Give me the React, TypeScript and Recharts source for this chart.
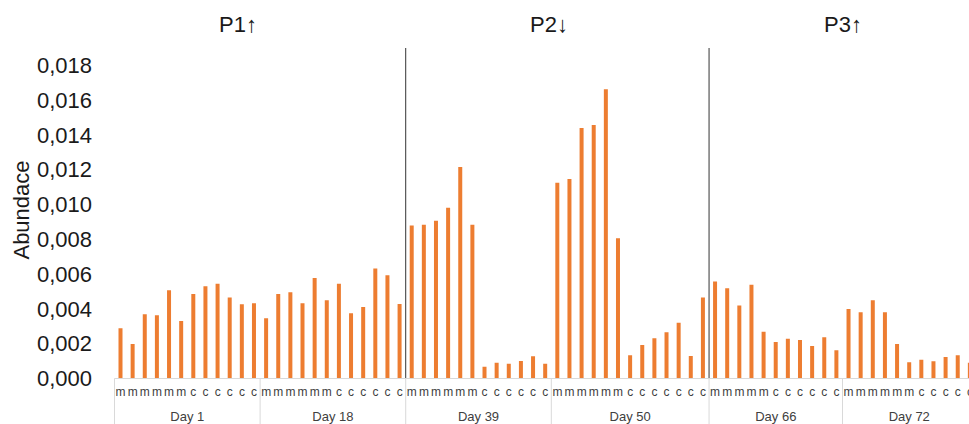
import React from "react";
import { BarChart, Bar, XAxis, YAxis, ReferenceLine } from "recharts";

// sampling days and how many "m" samples lead each group (the rest are "c")
const days = ["Day 1", "Day 18", "Day 39", "Day 50", "Day 66", "Day 72"];
const mCounts = [6, 6, 6, 6, 5, 6];

const day1 = [0.00289, 0.00198, 0.00369, 0.00363, 0.00507, 0.00331, 0.00486, 0.0053, 0.00545, 0.00465, 0.00427, 0.00432];
const day18 = [0.00346, 0.00486, 0.00496, 0.00432, 0.00578, 0.0045, 0.00545, 0.00375, 0.00411, 0.00633, 0.00593, 0.00428];
const day39 = [0.00879, 0.00884, 0.00907, 0.00982, 0.01216, 0.00884, 0.00068, 0.00091, 0.00085, 0.00101, 0.00128, 0.00085];
const day50 = [0.01126, 0.01147, 0.0144, 0.01458, 0.01663, 0.00806, 0.00133, 0.00193, 0.00231, 0.00266, 0.00321, 0.00129, 0.00465];
const day66 = [0.00557, 0.00519, 0.00419, 0.00539, 0.00269, 0.0021, 0.00229, 0.00221, 0.00187, 0.00237, 0.00162];
const day72 = [0.004, 0.00381, 0.0045, 0.00381, 0.00198, 0.00093, 0.00108, 0.00099, 0.00124, 0.00133, 0.00091];

const yTicks = [0, 0.002, 0.004, 0.006, 0.008, 0.01, 0.012, 0.014, 0.016, 0.018];

const phases = ["P1↑", "P2↓", "P3↑"];
const phaseStarts = ["Day 39", "Day 66"];

const series = [day1, day18, day39, day50, day66, day72];

const rows = days.flatMap((day, g) =>
  series[g].map((value, i) => ({
    id: `${day}-${i}`,
    day,
    pos: i,
    size: series[g].length,
    kind: i < mCounts[g] ? "m" : "c",
    value,
  }))
);
const byId: Record<string, (typeof rows)[number]> = {};
rows.forEach((r) => (byId[r.id] = r));

const CHART_W = 976;
const CHART_H = 424;
const PLOT_LEFT = 114.5;
const PLOT_TOP = 48;
const KIND_H = 22;
const DAY_H = 23.5;
const BAND = (CHART_W - PLOT_LEFT) / rows.length;

const FONT = '"Liberation Sans", Arial, sans-serif';
const ORANGE = "#ED7D31";
const GRID = "#D9D9D9";

const fmt = (v: number) => v.toFixed(3).replace(".", ",");

const ValueTick = ({ y, payload }: any) => (
  <text x={92} y={y} dy="0.35em" textAnchor="end" fontSize={22} fontFamily={FONT} fill="#1a1a1a">
    {fmt(payload.value)}
  </text>
);

const KindTick = ({ x, y, payload }: any) => (
  <text x={x} y={y + 17} textAnchor="middle" fontSize={12} fontFamily={FONT} fill="#404040">
    {byId[payload.value]?.kind}
  </text>
);

// group separators plus one centred day label per group
const DayTick = ({ x, y, payload }: any) => {
  const r = byId[payload.value];
  if (!r) return null;
  const left = x - BAND / 2;
  const center = x + ((r.size - 1) / 2 - r.pos) * BAND;
  return (
    <g>
      {r.pos === 0 && (
        <line x1={left} x2={left} y1={y - KIND_H} y2={y + DAY_H} stroke={GRID} strokeWidth={1} />
      )}
      {r.pos === Math.floor((r.size - 1) / 2) && (
        <text x={center} y={y + 20} textAnchor="middle" fontSize={13} fontFamily={FONT} fill="#404040">
          {r.day}
        </text>
      )}
    </g>
  );
};

const phaseX = [238, 549, 843];

export default function App() {
  return (
    <div
      style={{
        position: "absolute",
        left: 0,
        top: 0,
        width: 969,
        height: CHART_H,
        overflow: "hidden",
        background: "#fff",
      }}
    >
      <BarChart
        width={CHART_W}
        height={CHART_H}
        data={rows}
        margin={{ top: PLOT_TOP, right: 0, bottom: 0, left: 0 }}
        barCategoryGap={0}
      >
        <YAxis
          width={PLOT_LEFT}
          domain={[0, 0.019]}
          ticks={yTicks}
          axisLine={false}
          tickLine={false}
          tick={<ValueTick />}
          allowDataOverflow
        />
        <XAxis
          dataKey="id"
          height={KIND_H}
          interval={0}
          tickSize={0}
          tickMargin={0}
          tickLine={false}
          axisLine={{ stroke: GRID }}
          tick={<KindTick />}
        />
        <XAxis
          xAxisId="day"
          dataKey="id"
          height={DAY_H}
          interval={0}
          tickSize={0}
          tickMargin={0}
          tickLine={false}
          axisLine={false}
          tick={<DayTick />}
        />
        <Bar dataKey="value" fill={ORANGE} barSize={4} isAnimationActive={false} />
        {phaseStarts.map((d) => (
          <ReferenceLine
            key={d}
            x={`${d}-0`}
            position="start"
            stroke="#333"
            strokeWidth={1}
            ifOverflow="visible"
          />
        ))}
      </BarChart>
      <svg
        width={969}
        height={CHART_H}
        style={{ position: "absolute", left: 0, top: 0, pointerEvents: "none" }}
      >
        {phases.map((p, i) => (
          <text key={p} x={phaseX[i]} y={24} dy="0.35em" textAnchor="middle" fontSize={22} fontFamily={FONT} fill="#1a1a1a">
            {p}
          </text>
        ))}
        <text
          x={0}
          y={0}
          transform="translate(21 210) rotate(-90)"
          dy="0.35em"
          textAnchor="middle"
          fontSize={22}
          fontFamily={FONT}
          fill="#1a1a1a"
        >
          Abundace
        </text>
      </svg>
    </div>
  );
}
